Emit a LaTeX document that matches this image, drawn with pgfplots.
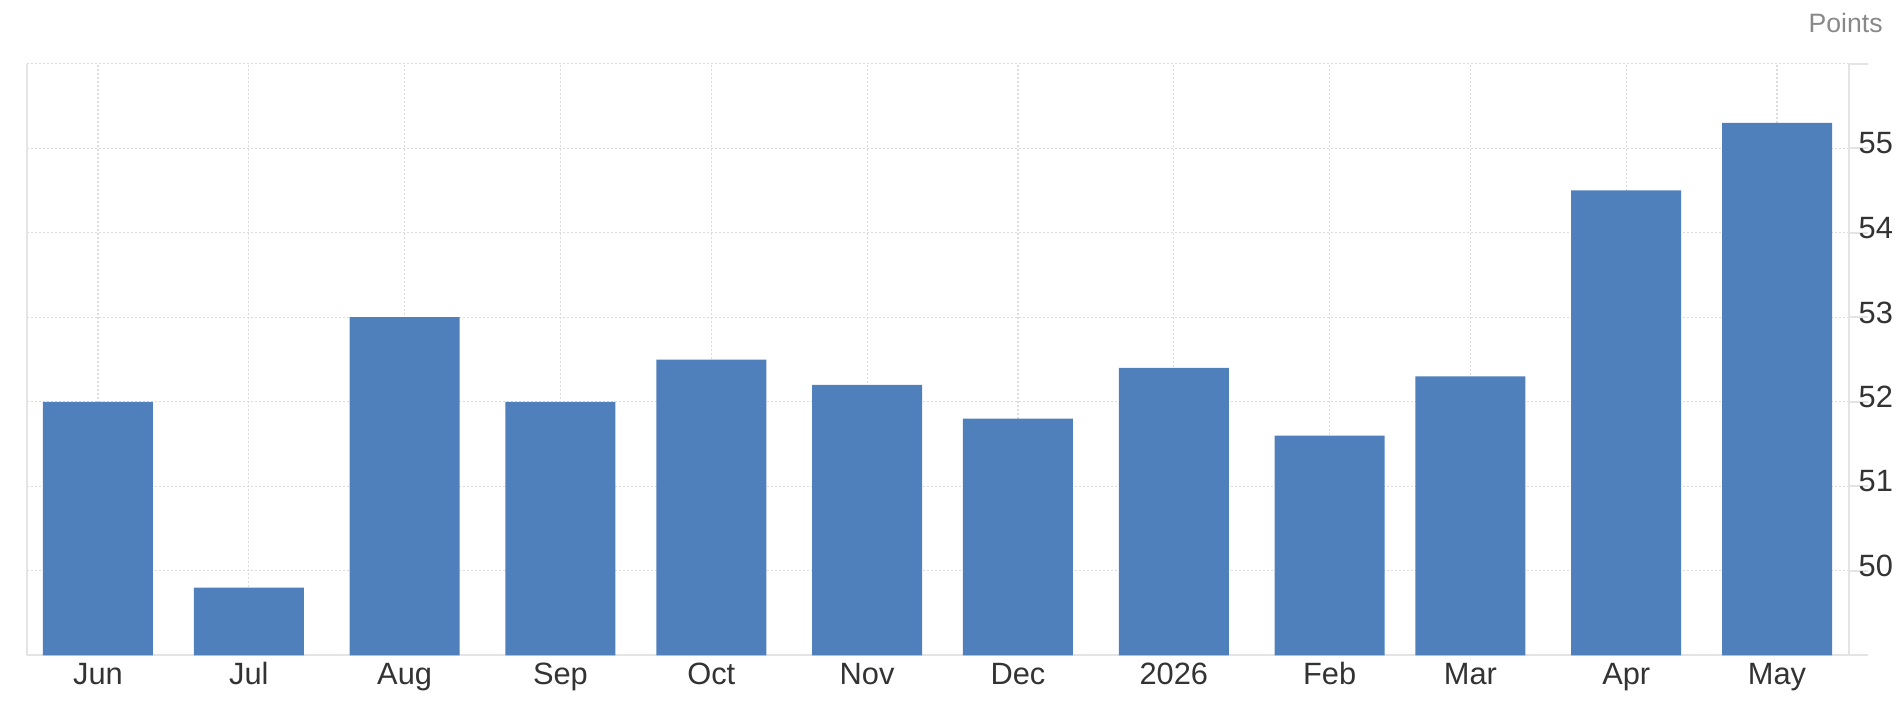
\documentclass[border=0pt]{standalone}
\usepackage{pgfplots}
\pgfplotsset{compat=1.18}
\usepackage{fontspec}
\setmainfont{Liberation Sans}
\definecolor{barblue}{RGB}{79,128,188}
\definecolor{gridgray}{RGB}{220,220,220}
\definecolor{axisgray}{RGB}{228,228,228}
\definecolor{labelgray}{RGB}{51,51,51}
\definecolor{unitgray}{RGB}{136,136,136}

\begin{document}
\begin{tikzpicture}
\begin{axis}[
    scale only axis,
    width=911.3pt,
    height=295.8pt,
    xmin=-14.18, xmax=348.38,
    ymin=49, ymax=56,
    axis x line*=bottom,
    axis y line*=right,
    axis line style={draw=axisgray, line width=1pt, -},
    ybar,
    bar width=55pt,
    xtick={0,30,61,92,122,153,183,214,245,273,304,334},
    xticklabels={Jun,Jul,Aug,Sep,Oct,Nov,Dec,2026,Feb,Mar,Apr,May},
    ytick={49,...,56},
    yticklabels={,50,51,52,53,54,55,},
    grid=major,
    major grid style={draw=gridgray, line width=0.6pt, dash pattern=on 1pt off 1pt},
    xtick style={draw=none},
    ytick style={draw=axisgray, line width=1pt},
    tick align=outside,
    major tick length=9.5pt,
    ticklabel style={font=\fontsize{15.4}{18}\selectfont, text=labelgray},
    xticklabel style={inner sep=0pt, anchor=base, yshift=-5.1pt},
    yticklabel style={inner sep=0pt, xshift=-5pt, yshift=2.4pt},
    clip mode=individual,
]
\addplot[draw=none, fill=barblue] coordinates {
    (0,52.0) (30,49.8) (61,53.0) (92,52.0) (122,52.5) (153,52.2)
    (183,51.8) (214,52.4) (245,51.6) (273,52.3) (304,54.5) (334,55.3)
};
\draw[axisgray, line width=1pt] (rel axis cs:0,0) -- (rel axis cs:0,1);
\node[anchor=base east, inner sep=0pt, text=unitgray, font=\fontsize{13.3}{16}\selectfont]
    at (rel axis cs:1.0185,1.0531) {Points};
\end{axis}
\pgfresetboundingbox
\useasboundingbox (-13.35pt,-25.35pt) rectangle (938.65pt,327.65pt);
\end{tikzpicture}
\end{document}
